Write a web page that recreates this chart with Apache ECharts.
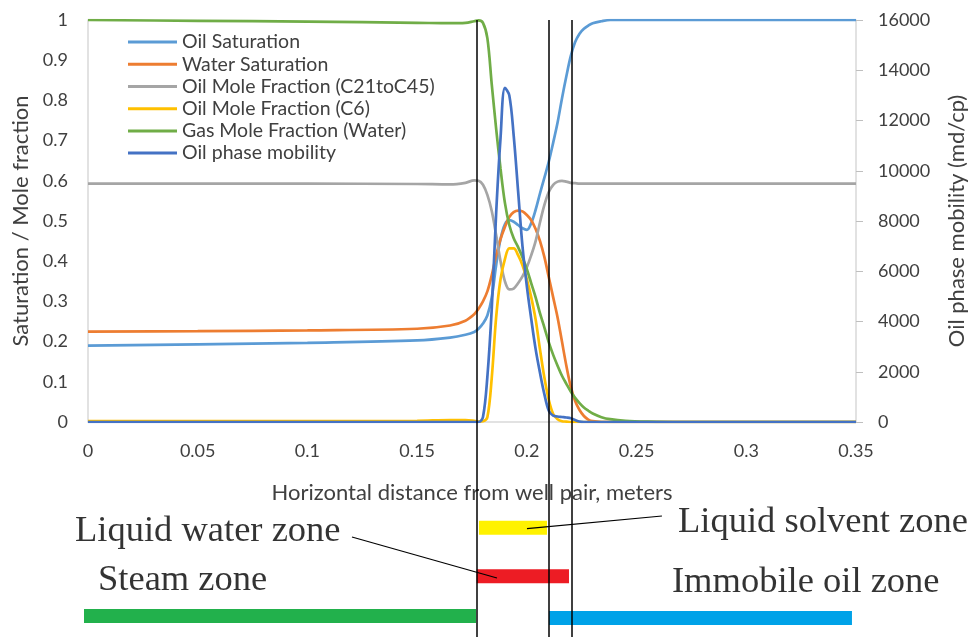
<!DOCTYPE html>
<html>
<head>
<meta charset="utf-8">
<script src="https://cdn.jsdelivr.net/npm/echarts/dist/echarts.min.js"></script>
<style>
  html, body { margin: 0; padding: 0; background: #fff; }
  #chart { width: 979px; height: 637px; }
</style>
</head>
<body>
<div id="chart"></div>
<script>
// horizontal distance from well pair (m)
const distance = [0, 0.05, 0.1, 0.15, 0.165, 0.172, 0.176,
  0.178, 0.180, 0.182, 0.184, 0.186, 0.188, 0.190, 0.192, 0.194, 0.196, 0.198,
  0.200, 0.202, 0.204, 0.206, 0.208, 0.210, 0.212, 0.214, 0.216, 0.218,
  0.220, 0.222, 0.224, 0.226, 0.228, 0.230, 0.234, 0.238, 0.245, 0.255, 0.27, 0.3, 0.35];

const oilSaturation = [0.19, 0.193, 0.197, 0.203, 0.21, 0.217, 0.224,
  0.232, 0.245, 0.265, 0.31, 0.39, 0.455, 0.492, 0.502, 0.498, 0.49, 0.482,
  0.478, 0.495, 0.528, 0.569, 0.608, 0.648, 0.695, 0.745, 0.805, 0.86,
  0.91, 0.945, 0.966, 0.978, 0.986, 0.992, 0.997, 1, 1, 1, 1, 1, 1];

const waterSaturation = [0.225, 0.226, 0.228, 0.232, 0.24, 0.252, 0.268,
  0.282, 0.3, 0.325, 0.365, 0.415, 0.455, 0.485, 0.51, 0.522, 0.526, 0.524,
  0.515, 0.502, 0.48, 0.45, 0.41, 0.36, 0.31, 0.26, 0.2, 0.14,
  0.088, 0.052, 0.03, 0.015, 0.006, 0.002, 0, 0, 0, 0, 0, 0, 0];

const oilMoleC21toC45 = [0.593, 0.593, 0.593, 0.592, 0.591, 0.595, 0.601,
  0.6, 0.59, 0.565, 0.525, 0.465, 0.4, 0.35, 0.33, 0.332, 0.345, 0.362,
  0.385, 0.415, 0.45, 0.497, 0.54, 0.572, 0.59, 0.598, 0.6, 0.598,
  0.595, 0.594, 0.593, 0.593, 0.593, 0.593, 0.593, 0.593, 0.593, 0.593, 0.593, 0.593, 0.593];

const oilMoleC6 = [0.002, 0.002, 0.002, 0.003, 0.005, 0.005, 0.003,
  0.001, 0.002, 0.012, 0.11, 0.26, 0.355, 0.405, 0.432, 0.432, 0.415, 0.39,
  0.355, 0.31, 0.255, 0.18, 0.11, 0.055, 0.02, 0.007, 0.002, 0.001,
  0, 0, 0, 0, 0, 0, 0, 0, 0, 0, 0, 0, 0];

const gasMoleWater = [1, 0.998, 0.996, 0.993, 0.992, 0.993, 0.997,
  0.999, 0.993, 0.955, 0.84, 0.73, 0.63, 0.545, 0.49, 0.457, 0.435, 0.41,
  0.38, 0.345, 0.31, 0.27, 0.235, 0.198, 0.167, 0.14, 0.115, 0.095,
  0.076, 0.06, 0.047, 0.036, 0.028, 0.021, 0.012, 0.007, 0.003, 0.001, 0, 0, 0];

// md/cp, right axis
const oilMobility = [0, 0, 0, 0, 0, 0, 0,
  0, 200, 1800, 4500, 8300, 11300, 13300, 13000, 11400, 9200, 7000,
  5400, 4100, 2900, 1950, 1100, 450, 250, 220, 200, 180,
  150, 80, 20, 0, 0, 0, 0, 0, 0, 0, 0, 0, 0];

const fronts = [0.17696, 0.20977, 0.22043];

// zone strips under the chart: start / end distance
const zoneNames = ['Liquid solvent zone', 'Liquid water zone', 'Steam zone', 'Immobile oil zone'];
const zoneStart = [0.17818, 0.17714, -0.00182, 0.21009];
const zoneEnd = [0.20918, 0.21920, 0.17682, 0.34816];
const zoneColors = ['#fff200', '#ed1c24', '#22b14c', '#00a2e8'];

// layout of the strip below the axis (pixels below the x axis line)
const zoneRow = [105.7, 154.3, 194, 196];
const zoneLabelPos = [[0.26887, 100.5], [-0.00592, 109.5], [0.00456, 158], [0.26613, 160.5]];
const leaders = [
  [[0.26157, 94], [0.20005, 106.7]],
  [[0.1203, 115], [0.18638, 156]]
];

const pair = arr => distance.map((d, i) => [d, arr[i]]);

const axisGray = '#d9d9d9';
const tickFont = { fontFamily: 'Lato', fontSize: 18, color: '#404040' };
const nameFont = { fontFamily: 'Lato', fontSize: 22, color: '#404040' };

const curves = [
  { name: 'Oil Saturation', data: oilSaturation, color: '#5b9bd5', y: 0 },
  { name: 'Water Saturation', data: waterSaturation, color: '#ed7d31', y: 0 },
  { name: 'Oil Mole Fraction (C21toC45)', data: oilMoleC21toC45, color: '#a5a5a5', y: 0 },
  { name: 'Oil Mole Fraction (C6)', data: oilMoleC6, color: '#ffc000', y: 0 },
  { name: 'Gas Mole Fraction (Water)', data: gasMoleWater, color: '#70ad47', y: 0 },
  { name: 'Oil phase mobility', data: oilMobility, color: '#4472c4', y: 1 }
];

const frontLine = {
  silent: true,
  symbol: 'none',
  precision: 6,
  label: { show: false },
  lineStyle: { color: '#000', width: 1.5, type: 'solid' },
  data: fronts.map(f => ({ xAxis: f }))
};

const series = curves.map((c, i) => ({
  name: c.name,
  type: 'line',
  xAxisIndex: 0,
  yAxisIndex: c.y,
  data: pair(c.data),
  smooth: 0.35,
  showSymbol: false,
  symbol: 'none',
  color: c.color,
  lineStyle: { width: 2.7, color: c.color },
  markLine: i === curves.length - 1 ? frontLine : undefined
}));

zoneNames.forEach((n, i) => {
  series.push({
    type: 'line',
    xAxisIndex: 1,
    yAxisIndex: 2,
    clip: false,
    silent: true,
    symbol: 'none',
    data: [[zoneStart[i], zoneRow[i]], [zoneEnd[i], zoneRow[i]]],
    lineStyle: { width: 14, color: zoneColors[i], cap: 'butt' },
    markLine: i === 0 ? frontLine : undefined
  });
});

leaders.forEach(seg => {
  series.push({
    type: 'line',
    xAxisIndex: 1,
    yAxisIndex: 2,
    clip: false,
    silent: true,
    symbol: 'none',
    z: 5,
    data: seg,
    lineStyle: { width: 1.2, color: '#000' }
  });
});

series.push({
  type: 'scatter',
  xAxisIndex: 1,
  yAxisIndex: 2,
  clip: false,
  silent: true,
  symbolSize: 0,
  data: zoneNames.map((n, i) => ({ name: n, value: zoneLabelPos[i] })),
  label: {
    show: true,
    position: 'right',
    distance: 0,
    formatter: '{b}',
    fontFamily: 'Liberation Serif',
    fontSize: 36.5,
    color: '#000'
  }
});

const chart = echarts.init(document.getElementById('chart'));
chart.setOption({
  animation: false,
  backgroundColor: '#fff',
  legend: {
    orient: 'vertical',
    left: 128,
    top: 31,
    padding: 0,
    itemGap: 0,
    itemWidth: 49,
    itemHeight: 3,
    icon: 'rect',
    textStyle: { fontFamily: 'Lato', fontSize: 19.5, color: '#404040', lineHeight: 22.2 },
    data: curves.map(c => c.name)
  },
  grid: [
    { left: 88, right: 123, top: 20, height: 402 },
    { left: 88, right: 123, top: 422, height: 215 }
  ],
  xAxis: [
    {
      type: 'value', gridIndex: 0, min: 0, max: 0.35, interval: 0.05,
      splitLine: { show: false },
      axisTick: { show: false },
      axisLine: { show: true, lineStyle: { color: axisGray, width: 1.5 } },
      axisLabel: Object.assign({ margin: 20 }, tickFont),
      name: 'Horizontal distance from well pair, meters',
      nameLocation: 'middle',
      nameGap: 60,
      nameTextStyle: nameFont
    },
    { type: 'value', gridIndex: 1, min: 0, max: 0.35, show: false }
  ],
  yAxis: [
    {
      type: 'value', gridIndex: 0, min: 0, max: 1, interval: 0.1,
      splitLine: { show: false },
      axisTick: { show: false },
      axisLine: { show: true, lineStyle: { color: axisGray, width: 1.5 } },
      axisLabel: Object.assign({ margin: 20 }, tickFont),
      name: 'Saturation / Mole fraction',
      nameLocation: 'middle',
      nameRotate: 90,
      nameGap: 54,
      nameTextStyle: nameFont
    },
    {
      type: 'value', gridIndex: 0, min: 0, max: 16000, interval: 2000,
      position: 'right',
      splitLine: { show: false },
      axisTick: { show: true, length: 7, lineStyle: { color: '#bfbfbf' } },
      axisLine: { show: true, lineStyle: { color: axisGray, width: 1.5 } },
      axisLabel: Object.assign({ margin: 22, formatter: v => String(v) }, tickFont),
      name: 'Oil phase mobility (md/cp)',
      nameLocation: 'middle',
      nameRotate: 90,
      nameGap: 90,
      nameTextStyle: nameFont
    },
    { type: 'value', gridIndex: 1, min: 0, max: 215, inverse: true, show: false }
  ],
  series: series
});
</script>
</body>
</html>
